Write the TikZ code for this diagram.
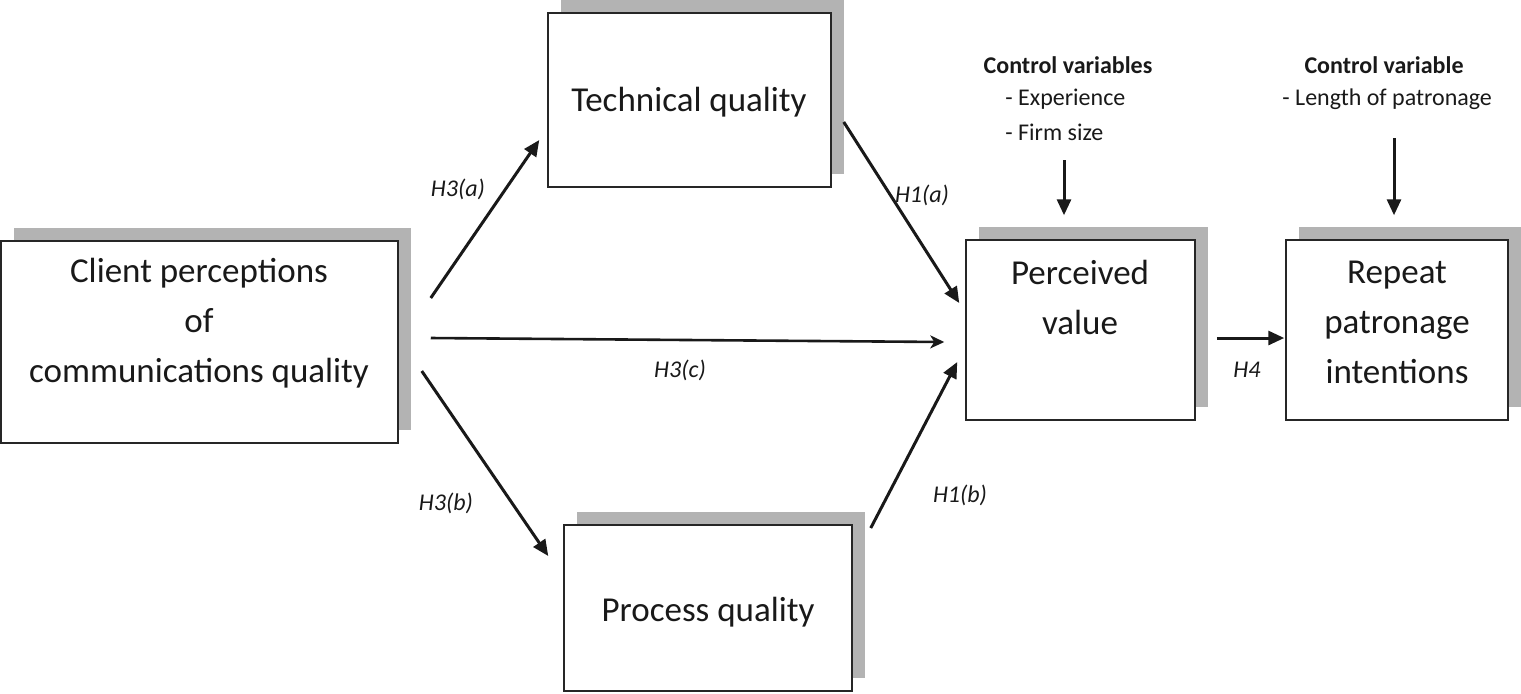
\documentclass[tikz,border=0pt]{standalone}
\usepackage{fontspec}
\setmainfont{Carlito}
\usetikzlibrary{arrows.meta,shadows}
\definecolor{shadowgray}{RGB}{179,179,179}
\begin{document}
\begin{tikzpicture}[x=0.5pt,y=-0.5pt,
  box/.style={draw=black!85, line width=0.75pt, fill=white, inner sep=0pt,
    drop shadow={shadow xshift=6.5pt, shadow yshift=6.5pt, fill=shadowgray, opacity=1}},
  boxtext/.style={align=center, font=\fontsize{17.5}{25}\selectfont, inner sep=0pt, text=black!90},
  ctrltitle/.style={font=\fontsize{12}{16}\selectfont\bfseries, inner sep=0pt, text=black!90},
  ctrlitem/.style={font=\fontsize{12}{16}\selectfont, inner sep=0pt, anchor=west, text=black!90},
  lab/.style={font=\fontsize{12}{14}\selectfont\itshape, inner sep=0pt, text=black!90},
  arr/.style={draw=black!90, line width=1.5pt, -{Triangle[length=8pt,width=7pt]}},
  thinarr/.style={draw=black!90, line width=1.3pt, -{Stealth[length=7pt,width=6.5pt,inset=2pt]}}
]
\useasboundingbox (0,0) rectangle (1521,693);

% boxes
\node[box, minimum width=198.5pt, minimum height=101pt] (client) at (199.5,342) {};
\node[box, minimum width=141.5pt, minimum height=87pt] (tech) at (689.5,100) {};
\node[box, minimum width=144pt, minimum height=83pt] (proc) at (708,608) {};
\node[box, minimum width=114.5pt, minimum height=90pt] (perc) at (1080.5,330) {};
\node[box, minimum width=111pt, minimum height=90pt] (rep) at (1397,330) {};

% box texts
\node[boxtext] (clienttxt) at (199,323) {Client perceptions\\of\\communications quality};
\node[boxtext] (techtxt) at (689,102) {Technical quality};
\node[boxtext] (proctxt) at (708,612) {Process quality};
\node[boxtext] (perctxt) at (1080,297) {Perceived\\value};
\node[boxtext] (reptxt) at (1397,322) {Repeat\\patronage\\intentions};

% control variables
\node[ctrltitle] (ct1) at (1068,65) {Control variables};
\node[ctrlitem] (ct1a) at (1005,99) {- Experience};
\node[ctrlitem] (ct1b) at (1005,132) {- Firm size};
\node[ctrltitle] (ct2) at (1384,65) {Control variable};
\node[ctrlitem] (ct2a) at (1282,99) {- Length of patronage};

\coordinate (c1top) at (1064,160);
\coordinate (c2top) at (1394,138);

% connectors
\draw[arr] ([shift={(32,-44)}]client.east) -- ([shift={(-8,40)}]tech.west);
\draw[thinarr] ([shift={(32,-4)}]client.east) -- ([shift={(-21,12)}]perc.west);
\draw[arr] ([shift={(23,29)}]client.east) -- ([shift={(-15,-52)}]proc.west);
\draw[arr] ([shift={(12,22)}]tech.east) -- ([shift={(-6,-27)}]perc.west);
\draw[arr] ([shift={(18,-80)}]proc.east) -- ([shift={(-8,32)}]perc.west);
\draw[arr] ([shift={(21,8)}]perc.east) -- ([shift={(-1,8)}]rep.west);
\draw[arr] (c1top) -- ([shift={(-16.5,-24)}]perc.north);
\draw[arr] (c2top) -- ([shift={(-3,-24)}]rep.north);

% labels
\node[lab] (l3a) at (458,189) {H3(a)};
\node[lab] (l1a) at (922,195) {H1(a)};
\node[lab] (l3c) at (680,370) {H3(c)};
\node[lab] (l3b) at (446,503) {H3(b)};
\node[lab] (l1b) at (960,495) {H1(b)};
\node[lab] (l4) at (1247,370) {H4};
\end{tikzpicture}
\end{document}
